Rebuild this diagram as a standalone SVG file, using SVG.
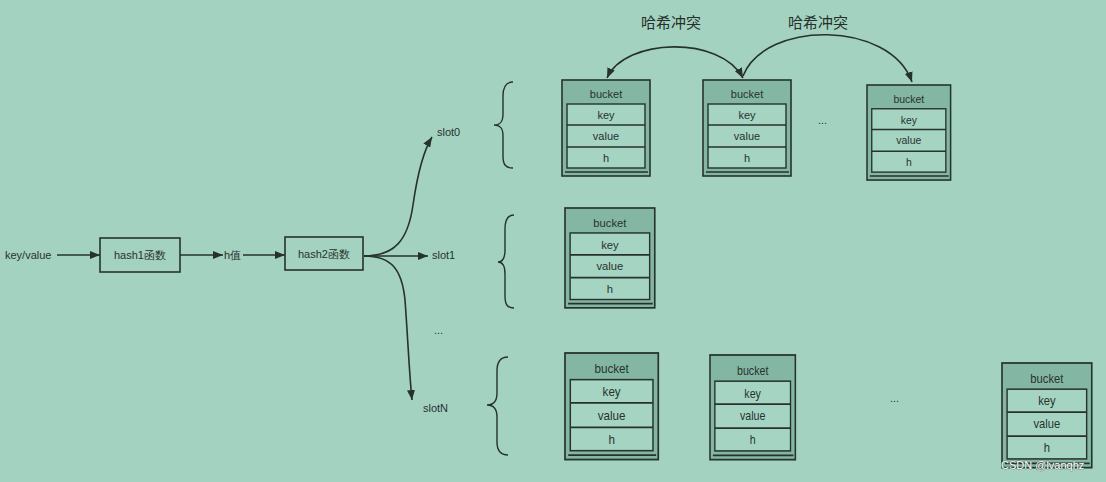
<svg xmlns="http://www.w3.org/2000/svg" xmlns:xlink="http://www.w3.org/1999/xlink" width="1106" height="482" viewBox="0 0 1106 482">
<style>
  .t{font-family:"Liberation Sans",Arial,sans-serif;font-size:11px;fill:#27332e}
  .c{text-anchor:middle}
  .cjk{font-family:"Noto Sans CJK SC",sans-serif;font-size:15px;fill:#25302b}
  .box{fill:none;stroke:#26322d;stroke-width:1.6}
  .ln{fill:none;stroke:#26322d;stroke-width:1.6}
  .br{fill:none;stroke:#26322d;stroke-width:1.4}
  .hdr{fill:#84b7a3;stroke:#26322d;stroke-width:1.6}
  .row{fill:#a6d4c3;stroke:#26322d;stroke-width:1.4}
  .wm{font-family:"Liberation Sans",Arial,sans-serif;font-size:11px;fill:#ffffff;stroke:#4a5752;stroke-width:0.6;paint-order:stroke}
</style>
<defs>
  <marker id="ar" viewBox="0 0 10 8" refX="10" refY="4" markerWidth="10" markerHeight="8" markerUnits="userSpaceOnUse" orient="auto-start-reverse">
    <path d="M0,0 L10,4 L0,8 Z" fill="#26322d"/>
  </marker>
  <g id="bk">
    <rect class="hdr" x="0" y="0" width="88" height="96"/>
    <rect class="row" x="5" y="24" width="78" height="64"/>
    <line class="ln" x1="5" y1="45" x2="83" y2="45" stroke-width="1.4"/>
    <line class="ln" x1="5" y1="67" x2="83" y2="67" stroke-width="1.4"/>
    <line class="ln" x1="3" y1="92" x2="86" y2="92" stroke-width="1"/>
    <text class="t c" x="44" y="18">bucket</text>
    <text class="t c" x="44" y="39">key</text>
    <text class="t c" x="44" y="60">value</text>
    <text class="t c" x="44" y="82">h</text>
  </g>
</defs>
<rect x="0" y="0" width="1106" height="482" fill="#a4d2c1"/>

<g id="connectors">
  <line class="ln" x1="57" y1="255" x2="100" y2="255" marker-end="url(#ar)"/>
  <line class="ln" x1="180" y1="255" x2="223" y2="255" marker-end="url(#ar)"/>
  <line class="ln" x1="243" y1="255" x2="285" y2="255" marker-end="url(#ar)"/>
  <line class="ln" x1="364" y1="256" x2="428" y2="256" marker-end="url(#ar)"/>
  <path class="ln" d="M364 256 C395 256 408 240 413 205 C418 170 424 150 432 137" marker-end="url(#ar)"/>
  <path class="ln" d="M364 256 C392 256 402 270 405 300 C408 340 409 370 412 400" marker-end="url(#ar)"/>
  <path class="ln" d="M607 78 C625 38 720 35 743 78" marker-start="url(#ar)" marker-end="url(#ar)"/>
  <path class="ln" d="M743 76 C765 20 890 20 912 82" marker-end="url(#ar)"/>
</g>

<g id="input"><text class="t" x="5" y="259">key/value</text></g>
<g id="hash1"><rect class="box" x="100" y="238" width="80" height="34"/><text class="t c" x="140" y="259">hash1函数</text></g>
<g id="hval"><text class="t" x="224" y="259">h值</text></g>
<g id="hash2"><rect class="box" x="285" y="237" width="78" height="33"/><text class="t c" x="324" y="258">hash2函数</text></g>

<g id="slot0">
  <text class="t" x="437" y="136">slot0</text>
  <path class="br" d="M513 82 C505 82 503 88 503 96 L503 114 C503 121 501 125 494 125 C501 125 503 129 503 136 L503 156 C503 164 505 168 513 168"/>
</g>
<g id="slot1">
  <text class="t" x="432" y="259">slot1</text>
  <path class="br" d="M514 215 C507 215 505 221 505 229 L505 250 C505 257 503 262 498 262 C503 262 505 267 505 274 L505 296 C505 304 507 308 514 308"/>
</g>
<g id="dots_mid"><text class="t" x="434" y="334">...</text></g>
<g id="slotN">
  <text class="t" x="423" y="412">slotN</text>
  <path class="br" d="M508 357 C500 357 497 363 497 371 L497 393 C497 400 494 405 487 405 C494 405 497 410 497 417 L497 442 C497 450 500 455 508 455"/>
</g>

<g id="lbl1"><text class="cjk" x="671" y="28" text-anchor="middle">哈希冲突</text></g>
<g id="lbl2"><text class="cjk" x="818" y="28" text-anchor="middle">哈希冲突</text></g>

<g id="b00"><use xlink:href="#bk" transform="translate(562,80)"/></g>
<g id="b01"><use xlink:href="#bk" transform="translate(703,80)"/></g>
<g id="dots0"><text class="t" x="818" y="124">...</text></g>
<g id="b02"><use xlink:href="#bk" transform="translate(867,85) scale(0.95,0.99)"/></g>

<g id="b10"><use xlink:href="#bk" transform="translate(565,208) scale(1.02,1.04)"/></g>

<g id="bN0"><use xlink:href="#bk" transform="translate(565,353) scale(1.06,1.11)"/></g>
<g id="bN1"><use xlink:href="#bk" transform="translate(710,355) scale(0.97,1.09)"/></g>
<g id="dotsN"><text class="t" x="890" y="402">...</text></g>
<g id="bN2"><use xlink:href="#bk" transform="translate(1002,363) scale(1.02,1.09)"/></g>

<g id="watermark"><text class="wm" x="1001" y="469">CSDN @lvanqhz</text></g>
</svg>
